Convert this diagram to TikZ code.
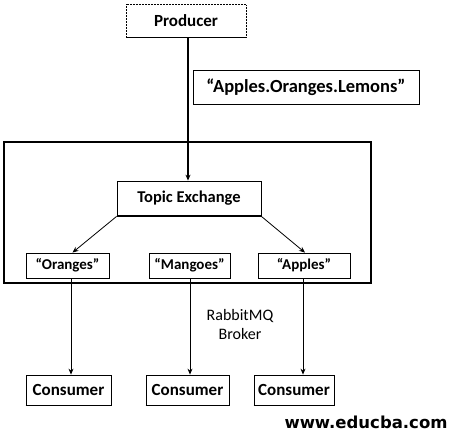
\documentclass[tikz,border=0pt]{standalone}
\usepackage{fontspec}
\setmainfont{Carlito}
\newfontfamily\wmfont{DejaVu Sans}
\usetikzlibrary{arrows.meta}
\tikzset{
  box/.style={draw, line width=0.8pt, font=\bfseries\fontsize{15}{17}\selectfont, inner sep=0pt},
  arr/.style={-{Stealth[length=6pt,width=5pt]}, line width=0.8pt},
}
\begin{document}
\begin{tikzpicture}[x=1pt,y=-1pt]
\useasboundingbox (0,0) rectangle (453,434);
% broker frame
\draw[line width=2pt] (4,142) rectangle (371,283);
% producer
\node[box, draw=none, minimum width=119pt, minimum height=33pt, font=\bfseries\fontsize{17}{19}\selectfont] (prod) at (186,21) {Producer};
\draw[densely dotted, line width=0.5pt] (prod.south west) -- (prod.north west) -- (prod.north east) -- (prod.south east);
\draw[line width=1pt] (prod.south west) -- (prod.south east);
% routing key
\node[box, minimum width=226pt, minimum height=34pt, font=\bfseries\fontsize{18.5}{20}\selectfont] (key) at (306,87) {“Apples.Oranges.Lemons”};
\draw[line width=1.6pt] ([xshift=110pt]key.south west) -- (key.south east);
% topic exchange
\node[box, minimum width=144pt, minimum height=35pt, font=\bfseries\fontsize{16.5}{18}\selectfont] (tx) at (189,198.5) {Topic Exchange};
\draw[line width=2pt] (tx.south west) -- (tx.south east);
% queues
\node[box, minimum width=83pt, minimum height=25pt] (q1) at (67.5,265.5) {“Oranges”};
\node[box, minimum width=81pt, minimum height=25pt] (q2) at (189.5,265.5) {“Mangoes”};
\node[box, minimum width=92pt, minimum height=25pt] (q3) at (304,265.5) {“Apples”};
% consumers
\node[box, minimum width=85pt, minimum height=30pt, font=\bfseries\fontsize{17}{19}\selectfont] (c1) at (68.5,390) {Consumer};
\node[box, minimum width=83pt, minimum height=30pt, font=\bfseries\fontsize{17}{19}\selectfont] (c2) at (187.5,390) {Consumer};
\node[box, minimum width=80pt, minimum height=30pt, font=\bfseries\fontsize{17}{19}\selectfont] (c3) at (294,390) {Consumer};
\foreach \c in {c1,c2,c3}{\draw[line width=1.6pt] (\c.south west) -- (\c.south east);}
% connectors
\draw[arr, line width=1.2pt] (prod.south -| 188,0) -- (tx.north -| 188,0);
\draw[arr] (tx.south west) -- ([xshift=5pt]q1.north);
\draw[arr] (tx.south east) -- ([xshift=1pt]q3.north);
\draw[arr] (q1.south -| 71,0) -- (c1.north -| 71,0);
\draw[arr] (q2.south -| 190,0) -- (c2.north -| 190,0);
\draw[arr] (q3.south -| 303,0) -- (c3.north -| 303,0);
% broker label
\node[align=center, font=\fontsize{16}{19}\selectfont] (broker) at (240,324) {RabbitMQ\\Broker};
% watermark
\node[font=\wmfont\bfseries\fontsize{16.5}{18}\selectfont] (wm) at (366,422) {www.educba.com};
\end{tikzpicture}
\end{document}
